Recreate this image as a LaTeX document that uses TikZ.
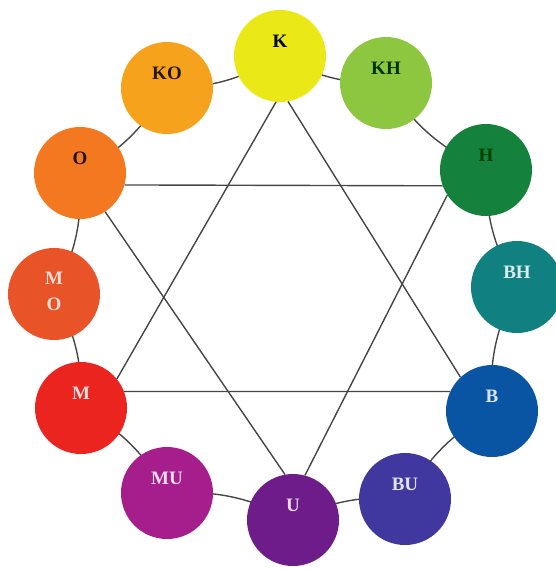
\documentclass[tikz,border=0pt]{standalone}
\usepackage{fontspec}
\setmainfont{Liberation Serif}
\usetikzlibrary{backgrounds}
\definecolor{cK}{RGB}{234,232,22}
\definecolor{cKH}{RGB}{141,198,63}
\definecolor{cH}{RGB}{20,130,60}
\definecolor{cBH}{RGB}{16,128,128}
\definecolor{cB}{RGB}{10,84,164}
\definecolor{cBU}{RGB}{64,56,158}
\definecolor{cU}{RGB}{110,28,138}
\definecolor{cMU}{RGB}{166,30,140}
\definecolor{cM}{RGB}{236,36,32}
\definecolor{cMO}{RGB}{232,84,40}
\definecolor{cO}{RGB}{244,120,32}
\definecolor{cKO}{RGB}{246,162,28}
\definecolor{linec}{RGB}{70,70,70}
\begin{document}
\begin{tikzpicture}[x=1pt,y=-1pt,
  hue/.style={circle, minimum size=92pt, inner sep=0pt, fill=#1},
  lab/.style={font=\fontsize{19}{26}\selectfont\bfseries, align=center, inner sep=0pt},
  conn/.style={draw=linec, line width=1.4pt},
  ring/.style={conn, bend right=15}
]
\useasboundingbox (0,0) rectangle (556,570);
\node[hue=cK,  label={[lab, text=black, yshift=15pt]center:K}]  (K)  at (280,56)  {};
\node[hue=cKH, label={[lab, text=black!80!green, yshift=15pt]center:KH}] (KH) at (386,83)  {};
\node[hue=cH,  label={[lab, text=black!75!green, yshift=15pt]center:H}]  (H)  at (486,170) {};
\node[hue=cBH, label={[lab, text=white!85!cBH, yshift=15pt]center:BH}] (BH) at (517,287) {};
\node[hue=cB,  label={[lab, text=white!85!cB, yshift=15pt]center:B}]  (B)  at (492,411) {};
\node[hue=cBU, label={[lab, text=white!85!cBU, yshift=15pt]center:BU}] (BU) at (405,499) {};
\node[hue=cU,  label={[lab, text=white!85!cU, yshift=15pt]center:U}]  (U)  at (293,520) {};
\node[hue=cMU, label={[lab, text=white!85!cMU, yshift=15pt]center:MU}] (MU) at (167,493) {};
\node[hue=cM,  label={[lab, text=white!85!cM, yshift=15pt]center:M}]  (M)  at (81,408)  {};
\node[hue=cMO, label={[lab, text=white!80!cMO, yshift=3pt]center:M\\O}] (MO) at (54,294) {};
\node[hue=cO,  label={[lab, text=black!85!cO, yshift=15pt]center:O}]  (O)  at (80,173)  {};
\node[hue=cKO, label={[lab, text=black!85!cKO, yshift=15pt]center:KO}] (KO) at (167,88)  {};
% ring
\begin{pgfonlayer}{background}
\draw[ring] (K.center) to (KH.center);
\draw[ring] (KH.center) to (H.center);
\draw[ring] (H.center) to (BH.center);
\draw[ring] (BH.center) to (B.center);
\draw[ring] (B.center) to (BU.center);
\draw[ring] (BU.center) to (U.center);
\draw[ring] (U.center) to (MU.center);
\draw[ring] (MU.center) to (M.center);
\draw[ring] (M.center) to (MO.center);
\draw[ring] (MO.center) to (O.center);
\draw[ring] (O.center) to (KO.center);
\draw[ring] (KO.center) to (K.center);
\end{pgfonlayer}
% triangle K-M-B
\draw[conn] (K.-95) -- (M.39);
\draw[conn] (K.-80) -- (B.133);
\draw[conn] (M.21) -- (B.155);
% triangle O-H-U
\draw[conn] (O.-15) -- (H.-160);
\draw[conn] (O.-57) -- (U.100);
\draw[conn] (H.213) -- (U.75);
\end{tikzpicture}
\end{document}
